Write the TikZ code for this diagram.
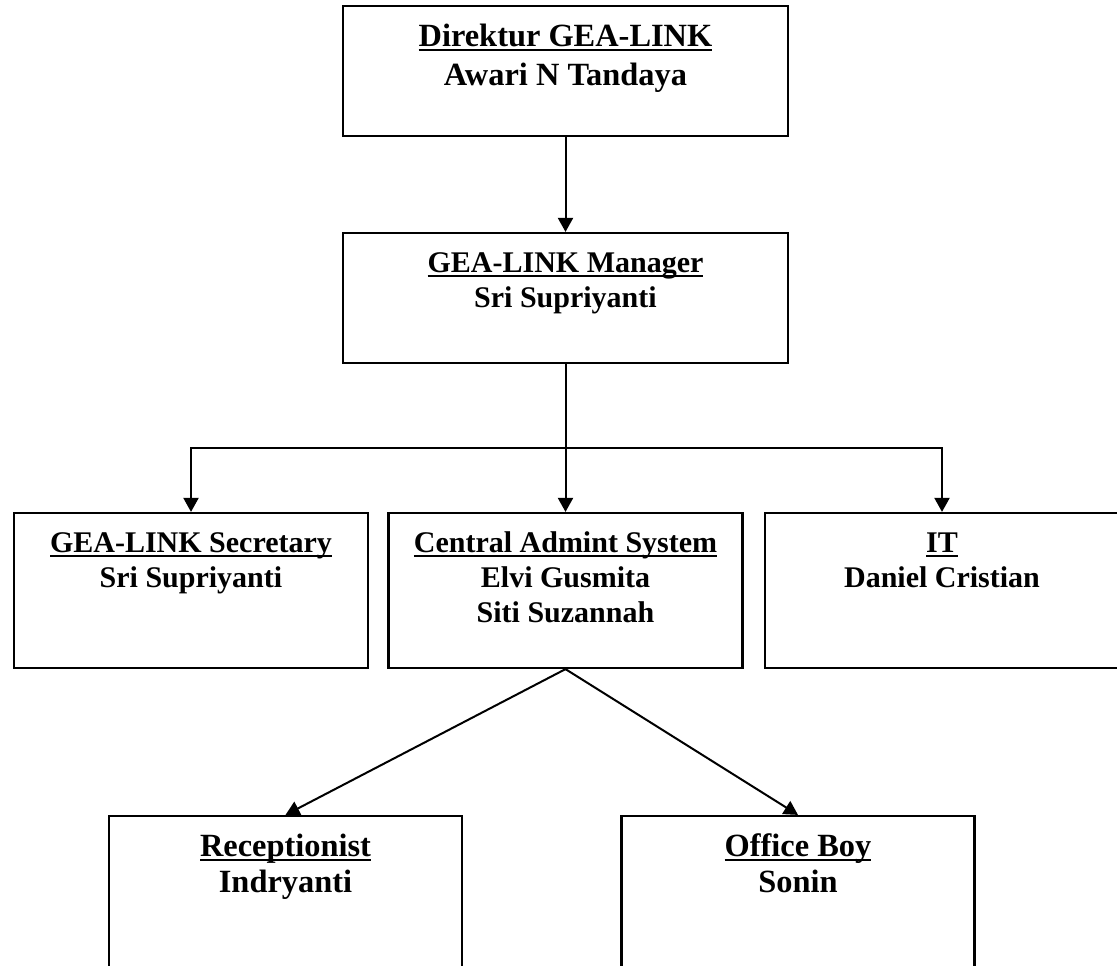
\documentclass[tikz,border=0pt]{standalone}
\usepackage{fontspec}
\setmainfont{Liberation Serif}
\usetikzlibrary{arrows.meta}
\newcommand{\myul}[1]{\setbox0=\hbox{#1}\rlap{\rule[-2.2pt]{\wd0}{1.1pt}}\box0}
\newcommand{\firststrut}{\rule{0pt}{14pt}}
\begin{document}
\begin{tikzpicture}[x=0.5pt,y=-0.5pt,
  box/.style={draw, line width=1.1pt, inner sep=0pt},
  bigbox/.style={box, minimum width=222.5pt, minimum height=65pt},
  midbox/.style={box, minimum width=177pt, minimum height=77.5pt},
  lowbox/.style={box, minimum width=176.5pt, minimum height=77.5pt},
  txt/.style={align=center, inner sep=0pt, anchor=north, font=\bfseries\fontsize{15}{17.5}\selectfont},
  bigtxt/.style={txt, font=\bfseries\fontsize{16.2}{19.5}\selectfont},
  lowtxt/.style={txt, font=\bfseries\fontsize{16.2}{18.3}\selectfont},
  link/.style={line width=1pt},
  arr/.style={link, -{Triangle[length=7pt,width=7.5pt]}}]
\clip (0,0) rectangle (1117,965);
% boxes
\node[bigbox] (dir) at (565.5,71) {};
\node[bigbox] (mgr) at (565.5,298) {};
\node[midbox] (sec) at (191,590.5) {};
\node[midbox] (cen) at (565.5,590.5) {};
\node[midbox] (it)  at (942,590.5) {};
\node[lowbox] (rec) at (285.5,893.5) {};
\node[lowbox] (ob)  at (798,893.5) {};
% texts
\node[bigtxt] (tdir) at ([yshift=-6.75pt]dir.north) {\firststrut\myul{Direktur GEA-LINK}\\Awari N Tandaya};
\node[txt] (tmgr) at ([yshift=-6.25pt]mgr.north) {\firststrut\myul{GEA-LINK Manager}\\Sri Supriyanti};
\node[txt] (tsec) at ([yshift=-6.25pt]sec.north) {\firststrut\myul{GEA-LINK Secretary}\\Sri Supriyanti};
\node[txt] (tcen) at ([yshift=-6.25pt]cen.north) {\firststrut\myul{Central Admint System}\\Elvi Gusmita\\Siti Suzannah};
\node[txt] (tit)  at ([yshift=-6.25pt]it.north) {\firststrut\myul{IT}\\Daniel Cristian};
\node[lowtxt] (trec) at ([yshift=-6.5pt]rec.north) {\firststrut\myul{Receptionist}\\Indryanti};
\node[lowtxt] (tob)  at ([yshift=-6.5pt]ob.north) {\firststrut\myul{Office Boy}\\Sonin};
% connectors
\coordinate (hub) at (565.5,448);
\draw[arr] (dir.south) -- (mgr.north);
\draw[link] (mgr.south) -- (hub);
\draw[arr] (hub) -| (sec.north);
\draw[arr] (hub) -| (it.north);
\draw[arr] (hub) -- (cen.north);
\draw[arr] (cen.south) -- (rec.north);
\draw[arr] (cen.south) -- (ob.north);
\end{tikzpicture}
\end{document}
